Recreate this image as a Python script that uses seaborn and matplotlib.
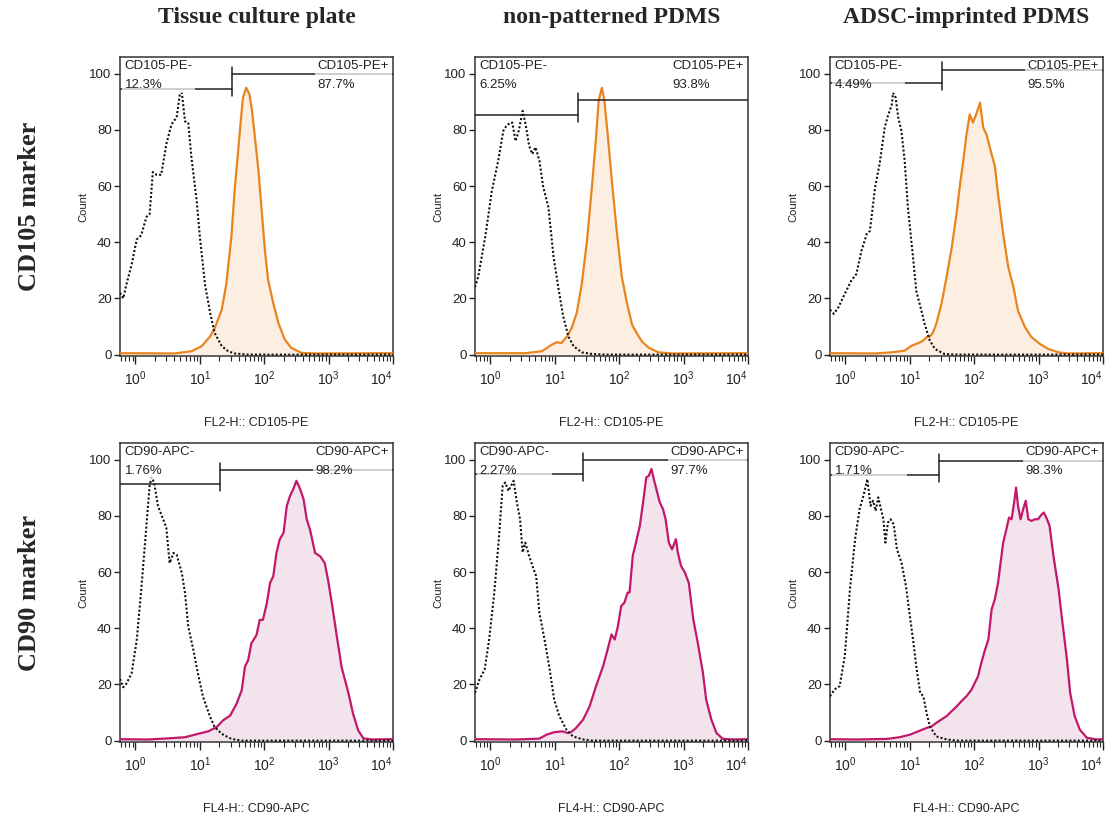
import numpy as np
import matplotlib
matplotlib.use("Agg")
import matplotlib.pyplot as plt
import seaborn as sns

# === headers / labels ===
conditions = ["Tissue culture plate", "non-patterned PDMS", "ADSC-imprinted PDMS"]
markers = ["CD105 marker", "CD90 marker"]
channels = ["FL2-H:: CD105-PE", "FL4-H:: CD90-APC"]
neg_names = ["CD105-PE-", "CD90-APC-"]
pos_names = ["CD105-PE+", "CD90-APC+"]
neg_pct = [["12.3%", "6.25%", "4.49%"], ["1.76%", "2.27%", "1.71%"]]
pos_pct = [["87.7%", "93.8%", "95.5%"], ["98.2%", "97.7%", "98.3%"]]

# gate divider (log10 fluorescence) and gate line heights (count)
gate_div = [[1.50, 1.36, 1.50], [1.31, 1.44, 1.46]]
gate_neg_y = [[94.7, 85.4, 96.8], [91.5, 94.9, 94.6]]
gate_pos_y = [[100.0, 90.7, 101.5], [96.4, 100.0, 99.5]]

# === histograms (x in log10 units, y = count) ===
# CD105 - tissue culture plate
tcp105_iso_x = [-0.24, -0.19, -0.14, -0.06, 0.02, 0.09, 0.17, 0.22, 0.27, 0.33, 0.40, 0.48, 0.56, 0.64, 0.69,
                0.72, 0.77, 0.82, 0.87, 0.95, 1.00, 1.08, 1.16, 1.23, 1.34, 1.44, 1.54, 1.75, 4.0]
tcp105_iso_y = [22, 20, 25, 32, 41, 42.5, 49, 50, 65, 64, 64, 75, 82, 84.5, 92.7,
                93.3, 83, 82.6, 70, 55, 42, 25, 14.8, 7.7, 3, 1.2, 0.4, 0, 0]
tcp105_x = [-0.24, 0.61, 0.87, 1.03, 1.16, 1.23, 1.34, 1.41, 1.49, 1.54, 1.60, 1.64, 1.67, 1.72, 1.77,
            1.81, 1.85, 1.91, 1.96, 2.01, 2.06, 2.14, 2.22, 2.32, 2.42, 2.58, 2.79, 4.0]
tcp105_y = [0.5, 0.4, 1.2, 3, 6.5, 9.4, 16, 25, 42, 58.4, 73.8, 84.4, 91.5, 95, 92.7,
            86.8, 78.5, 65.5, 51.4, 37.2, 26.6, 18.3, 11.2, 5.3, 2.4, 0.6, 0.4, 0.5]

# CD105 - non-patterned PDMS
flat105_iso_x = [-0.24, -0.19, -0.08, 0.02, 0.12, 0.20, 0.25, 0.31, 0.34, 0.39, 0.44, 0.50, 0.55, 0.60,
                 0.65, 0.70, 0.76, 0.82, 0.90, 0.98, 1.06, 1.13, 1.21, 1.29, 1.42, 1.58, 1.78, 4.0]
flat105_iso_y = [24, 27.7, 42, 58, 69, 79.7, 81.5, 82.6, 82.6, 76, 79.7, 86.8, 81.5, 74.4,
                 71.4, 73.8, 69, 59.6, 52.5, 34.8, 23, 13.6, 6.5, 3, 0.8, 0.2, 0, 0]
flat105_x = [-0.24, 0.23, 0.54, 0.80, 0.95, 1.03, 1.10, 1.19, 1.26, 1.34, 1.42, 1.50, 1.58, 1.64, 1.68,
             1.73, 1.77, 1.82, 1.89, 1.96, 2.04, 2.12, 2.20, 2.27, 2.35, 2.46, 2.61, 2.82, 4.0]
flat105_y = [0.5, 0.5, 0.5, 1.2, 3.5, 4.4, 4.1, 6.5, 9.4, 14.8, 25.4, 40.7, 60.8, 77.3, 90.3,
             95, 90.3, 78.5, 60.8, 44.3, 27.7, 18.3, 10.6, 7.7, 4.7, 2.4, 0.8, 0.4, 0.5]

# CD105 - ADSC-imprinted PDMS
imp105_iso_x = [-0.24, -0.18, -0.11, -0.01, 0.09, 0.17, 0.25, 0.33, 0.38, 0.46, 0.53, 0.61, 0.66, 0.72, 0.74,
                0.78, 0.82, 0.87, 0.92, 0.97, 1.05, 1.10, 1.18, 1.23, 1.31, 1.39, 1.54, 1.75, 4.0]
imp105_iso_y = [16, 14.5, 16.8, 21.6, 26.3, 28.7, 37, 42.9, 44, 59.5, 67.8, 80.8, 85, 89, 93.2,
                91.5, 84.4, 79.6, 69, 52.4, 34.6, 22.7, 15.6, 10.9, 5, 2, 0.2, 0, 0]
imp105_x = [-0.24, 0.46, 0.72, 0.92, 1.03, 1.10, 1.16, 1.21, 1.26, 1.31, 1.36, 1.41, 1.49, 1.57, 1.65,
            1.73, 1.78, 1.83, 1.88, 1.93, 1.98, 2.03, 2.09, 2.14, 2.19, 2.27, 2.32, 2.37, 2.45, 2.53,
            2.61, 2.68, 2.79, 2.89, 3.02, 3.15, 3.31, 3.46, 4.0]
imp105_y = [0.5, 0.4, 0.8, 1.4, 3.2, 3.8, 4.4, 5, 6.2, 6.4, 7.9, 10.9, 18, 27.5, 38,
            51, 60.7, 69, 78.4, 85.5, 82.6, 85.5, 89.7, 80.8, 78.4, 71.3, 67.2, 57.1, 42.9, 31,
            23.9, 15.6, 9.7, 6.2, 3.8, 2, 0.8, 0.4, 0.5]

# CD90 - tissue culture plate
tcp90_iso_x = [-0.24, -0.19, -0.14, -0.06, 0.02, 0.09, 0.17, 0.22, 0.25, 0.29, 0.35, 0.43, 0.48, 0.53,
               0.59, 0.64, 0.72, 0.77, 0.82, 0.90, 0.97, 1.05, 1.16, 1.23, 1.34, 1.49, 1.65, 4.0]
tcp90_iso_y = [22, 19, 20.3, 23.9, 35.8, 53.7, 76.4, 90.7, 93.7, 91.9, 83.5, 78.8, 75.8, 63.2,
               66.8, 66.2, 59.7, 52.5, 40.6, 32.2, 23.9, 15.5, 8.4, 4.8, 2.4, 0.6, 0, 0]
tcp90_x = [-0.24, 0.20, 0.51, 0.77, 0.97, 1.13, 1.26, 1.36, 1.47, 1.57, 1.65, 1.70, 1.75, 1.80, 1.88,
           1.93, 1.98, 2.04, 2.09, 2.14, 2.19, 2.24, 2.30, 2.35, 2.40, 2.45, 2.50, 2.55, 2.61, 2.66,
           2.71, 2.79, 2.87, 2.94, 2.99, 3.05, 3.12, 3.20, 3.31, 3.38, 3.46, 3.54, 3.67, 4.0]
tcp90_y = [0.5, 0.4, 0.8, 1.2, 2.4, 3.3, 4.8, 7.2, 8.9, 13.1, 17.9, 26.3, 28.6, 34.6, 37.6,
           43, 43, 48.9, 56.1, 58.5, 66.8, 71.6, 74, 83.5, 87.1, 89.5, 92.5, 90, 86, 78.8,
           75.2, 66.8, 65.6, 63.2, 57.3, 48.9, 38.2, 26.3, 16.7, 9.5, 3.6, 0.8, 0.4, 0.5]

# CD90 - non-patterned PDMS
flat90_iso_x = [-0.24, -0.17, -0.09, -0.02, 0.06, 0.13, 0.19, 0.23, 0.28, 0.32, 0.36, 0.41, 0.46, 0.50,
                0.54, 0.60, 0.67, 0.71, 0.76, 0.84, 0.92, 0.99, 1.07, 1.18, 1.28, 1.44, 1.59, 4.0]
flat90_iso_y = [17, 21.8, 25.3, 36, 52.7, 71.7, 90.7, 91.9, 88.9, 90.7, 92.5, 84.8, 78.8, 67,
                70.5, 65.8, 61, 58.6, 45.5, 36, 25.3, 14.6, 8.7, 3.9, 1.5, 0.4, 0, 0]
flat90_x = [-0.24, 0.40, 0.76, 0.87, 0.99, 1.12, 1.20, 1.25, 1.33, 1.44, 1.54, 1.64, 1.75, 1.82, 1.88,
            1.93, 1.98, 2.03, 2.08, 2.13, 2.16, 2.21, 2.26, 2.32, 2.37, 2.42, 2.46, 2.50, 2.55, 2.63,
            2.68, 2.72, 2.77, 2.82, 2.88, 2.91, 2.96, 3.02, 3.08, 3.15, 3.22, 3.30, 3.35, 3.43, 3.51,
            3.61, 3.77, 4.0]
flat90_y = [0.5, 0.4, 0.7, 2.1, 3, 3.3, 2.7, 3, 4.5, 7.5, 12.2, 19.4, 26.5, 32.5, 37.8,
            36, 40.8, 47.9, 49.1, 52.7, 52.7, 65.8, 70.5, 76.5, 84.8, 93.7, 94.3, 96.7, 91.9, 84.8,
            82.4, 78.8, 70.5, 68.1, 71.7, 66.9, 62.2, 59.8, 56.2, 43.2, 34.8, 24.1, 14.6, 7.5, 2.7,
            0.6, 0.4, 0.5]

# CD90 - ADSC-imprinted PDMS
imp90_iso_x = [-0.24, -0.17, -0.09, -0.01, 0.07, 0.15, 0.22, 0.28, 0.34, 0.39, 0.43, 0.47, 0.51, 0.54,
               0.59, 0.62, 0.66, 0.70, 0.75, 0.80, 0.87, 0.94, 1.00, 1.05, 1.10, 1.16, 1.21, 1.26,
               1.31, 1.41, 1.57, 1.73, 4.0]
imp90_iso_y = [15.8, 18.2, 19.4, 30, 53.9, 71.7, 82.4, 87.2, 93.1, 83.6, 85.4, 81.8, 86.6, 83.6,
               78.8, 70.5, 77.6, 78.8, 77, 68.1, 63.4, 55, 44.4, 36, 26.5, 17, 15.8, 9.9,
               5.1, 1.5, 0.4, 0, 0]
imp90_x = [-0.24, 0.17, 0.64, 0.84, 1.00, 1.13, 1.26, 1.34, 1.41, 1.49, 1.57, 1.65, 1.73, 1.80, 1.88,
           1.96, 2.01, 2.06, 2.11, 2.17, 2.22, 2.27, 2.32, 2.37, 2.41, 2.45, 2.50, 2.54, 2.58, 2.62,
           2.65, 2.68, 2.72, 2.76, 2.80, 2.84, 2.89, 2.94, 2.99, 3.05, 3.08, 3.12, 3.17, 3.23, 3.31,
           3.37, 3.44, 3.49, 3.56, 3.64, 3.75, 3.90, 4.0]
imp90_y = [0.5, 0.4, 0.6, 1.2, 2.1, 3.3, 4.5, 5.1, 6.3, 7.5, 8.7, 10.5, 12.2, 14, 15.8,
           18.2, 20.6, 22.9, 27.7, 32.5, 36, 46.7, 50.3, 56.2, 63.4, 70.5, 75.3, 79.4, 78.8, 84.8,
           90.1, 83.6, 78.8, 82.4, 85.4, 78.8, 78.2, 78.8, 78.8, 80.6, 81.2, 79.4, 76.5, 65.8, 53.9,
           42, 28.9, 17, 8.7, 3.9, 1, 0.4, 0.5]

iso_curves = [[(tcp105_iso_x, tcp105_iso_y), (flat105_iso_x, flat105_iso_y), (imp105_iso_x, imp105_iso_y)],
              [(tcp90_iso_x, tcp90_iso_y), (flat90_iso_x, flat90_iso_y), (imp90_iso_x, imp90_iso_y)]]
stained = [[(tcp105_x, tcp105_y), (flat105_x, flat105_y), (imp105_x, imp105_y)],
           [(tcp90_x, tcp90_y), (flat90_x, flat90_y), (imp90_x, imp90_y)]]

line_colors = ["#E9841F", "#C2186B"]
fill_colors = ["#FCEFE1", "#F3E3EC"]

# === figure ===
sns.set_theme(style="ticks")
plt.rcParams["font.family"] = ["Liberation Sans", "DejaVu Sans"]

fig = plt.figure(figsize=(11.09, 8.18), dpi=100)
lefts = [0.1082, 0.4283, 0.7484]
bottoms = [0.5648, 0.0929]
width, height = 0.2462, 0.3650
XMIN = -0.24

for r in range(2):
    for c in range(3):
        ax = fig.add_axes([lefts[c], bottoms[r], width, height])
        ax.set_xscale("log")

        sx, sy = stained[r][c]
        sx = 10 ** np.array(sx)
        ax.fill_between(sx, sy, 0, color=fill_colors[r], lw=0, zorder=1)
        sns.lineplot(x=sx, y=sy, ax=ax, color=line_colors[r], lw=1.6, zorder=3)

        ix, iy = iso_curves[r][c]
        sns.lineplot(x=10 ** np.array(ix), y=iy, ax=ax, color="#111111", lw=1.5,
                     linestyle=(0, (1, 1)), zorder=4)

        # gates
        d = 10 ** gate_div[r][c]
        ny, py = gate_neg_y[r][c], gate_pos_y[r][c]
        ax.plot([10 ** XMIN, d], [ny, ny], color="#222222", lw=1.1, zorder=5)
        ax.plot([d, 10 ** 4], [py, py], color="#222222", lw=1.1, zorder=5)
        ax.plot([d, d], [min(ny, py) - 2.5, max(ny, py) + 2.5], color="#222222", lw=1.1, zorder=5)

        box = dict(boxstyle="square,pad=0.2", fc="white", ec="none", alpha=0.72)
        ax.text(10 ** (XMIN + 0.07), 104.8, f"{neg_names[r]}\n{neg_pct[r][c]}", ha="left", va="top",
                fontsize=9.5, linespacing=1.7, color="#222222", bbox=box, zorder=6)
        ax.text(10 ** 3.94, 104.8, f"{pos_names[r]}\n{pos_pct[r][c]}", ha="right", va="top",
                multialignment="left", fontsize=9.5, linespacing=1.7, color="#222222", bbox=box, zorder=6)

        ax.set_xlim(10 ** XMIN, 10 ** 4)
        ax.set_ylim(-0.5, 105.8)
        ax.set_xticks([1, 10, 100, 1000, 10000])
        ax.set_yticks([0, 20, 40, 60, 80, 100])
        ax.tick_params(axis="both", which="major", direction="out", width=1,
                       labelsize=9.5, colors="#222222")
        ax.tick_params(axis="y", which="major", length=4, pad=2)
        ax.tick_params(axis="x", which="major", length=6, pad=4, labelsize=10)
        ax.tick_params(axis="x", which="minor", direction="out", length=3.5, width=0.8)
        ax.xaxis.get_major_ticks()[-1].label1.set_horizontalalignment("right")
        for sp in ax.spines.values():
            sp.set_visible(True)
            sp.set_color("#333333")
            sp.set_linewidth(1.1)

        ax.set_ylabel("Count", fontsize=8, color="#222222")
        ax.yaxis.set_label_coords(-0.117, 0.5)
        ax.set_xlabel(channels[r], fontsize=9, color="#222222")
        ax.xaxis.set_label_coords(0.5, -0.205)

        if r == 0:
            fig.text(lefts[c] + width / 2, 0.978, conditions[c], ha="center", va="center",
                     fontsize=17, fontweight="bold", family="Liberation Serif")

for r in range(2):
    fig.text(0.027, bottoms[r] + height / 2, markers[r], ha="center", va="center", rotation=90,
             fontsize=19, fontweight="bold", family="Liberation Serif")

fig.savefig("out.png", dpi=100)
